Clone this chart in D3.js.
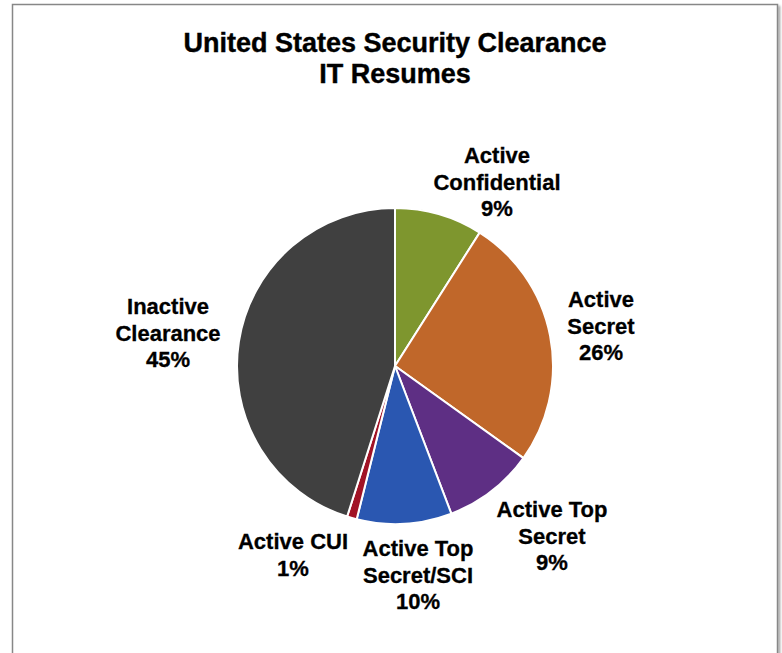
<!DOCTYPE html>
<html>
<head>
<meta charset="utf-8">
<script src="https://cdn.jsdelivr.net/npm/d3@7"></script>
<style>
  body { margin: 0; background: #fff; }
</style>
</head>
<body>
<div id="chart"></div>
<script>
/* CONSTANTS AND GLOBALS */
const width = 782;
const height = 653;
const cx = 395;
const cy = 366;
const radius = 158;

/* DATA */
const categories = ["Active Confidential", "Active Secret", "Active Top Secret",
  "Active Top Secret/SCI", "Active CUI", "Inactive Clearance"];
const values = [9.0, 25.9, 9.3, 9.7, 1.0, 45.1];
const colors = ["#7e962e", "#c0672a", "#5e2f84", "#2a57b1", "#a11326", "#404040"];
// label text lines (percent added from values)
const labelLines = [["Active", "Confidential"], ["Active", "Secret"], ["Active Top", "Secret"],
  ["Active Top", "Secret/SCI"], ["Active CUI"], ["Inactive", "Clearance"]];
// label anchor offsets from pie centre (best-fit positions in the original)
const labelPos = [[102, -184], [206, -40], [157, 170], [23, 209], [-102, 189], [-227, -33]];

const data = categories.map((c, i) => ({ name: c, value: values[i], color: colors[i],
  lines: labelLines[i].concat([Math.round(values[i]) + "%"]), pos: labelPos[i] }));

const svg = d3.select("#chart")
  .append("svg")
  .attr("width", width)
  .attr("height", height)
  .style("font-family", "'Liberation Sans', Arial, sans-serif");

// drop shadow for the frame
const defs = svg.append("defs");
const f = defs.append("filter").attr("id", "shadow").attr("x", "-5%").attr("y", "-5%")
  .attr("width", "110%").attr("height", "110%");
f.append("feDropShadow").attr("dx", 2).attr("dy", 2).attr("stdDeviation", 1.2)
  .attr("flood-color", "#000").attr("flood-opacity", 0.35);

svg.append("rect")
  .attr("x", 12.5).attr("y", 4.5)
  .attr("width", 765).attr("height", 700)
  .attr("fill", "#fff")
  .attr("stroke", "#878787")
  .attr("stroke-width", 1.5)
  .attr("filter", "url(#shadow)");

/* TITLE */
svg.append("g")
  .attr("text-anchor", "middle")
  .attr("font-weight", "bold")
  .attr("font-size", 27)
  .attr("fill", "#000")
  .attr("stroke", "#000")
  .attr("stroke-width", 0.4)
  .selectAll("text")
  .data(["United States Security Clearance", "IT Resumes"])
  .join("text")
  .attr("x", cx)
  .attr("y", (d, i) => 52 + i * 31)
  .text(d => d);

/* PIE */
const pie = d3.pie().value(d => d.value).sort(null);
const arc = d3.arc().innerRadius(0).outerRadius(radius);

const g = svg.append("g").attr("transform", `translate(${cx},${cy})`);

g.selectAll("path")
  .data(pie(data))
  .join("path")
  .attr("d", arc)
  .attr("fill", d => d.data.color)
  .attr("stroke", "#fff")
  .attr("stroke-width", 2);

/* LABELS */
const lineH = 26.5;
const labels = g.append("g")
  .attr("text-anchor", "middle")
  .attr("font-weight", "bold")
  .attr("font-size", 22)
  .attr("fill", "#000")
  .attr("stroke", "#000")
  .attr("stroke-width", 0.3)
  .selectAll("text")
  .data(data)
  .join("text")
  .attr("transform", d => `translate(${d.pos[0]},${d.pos[1]})`);

labels.selectAll("tspan")
  .data(d => d.lines.map((l, i) => ({ t: l, i: i, n: d.lines.length })))
  .join("tspan")
  .attr("x", 0)
  .attr("y", d => (d.i - (d.n - 1) / 2) * lineH + 7.5)
  .text(d => d.t);
</script>
</body>
</html>
